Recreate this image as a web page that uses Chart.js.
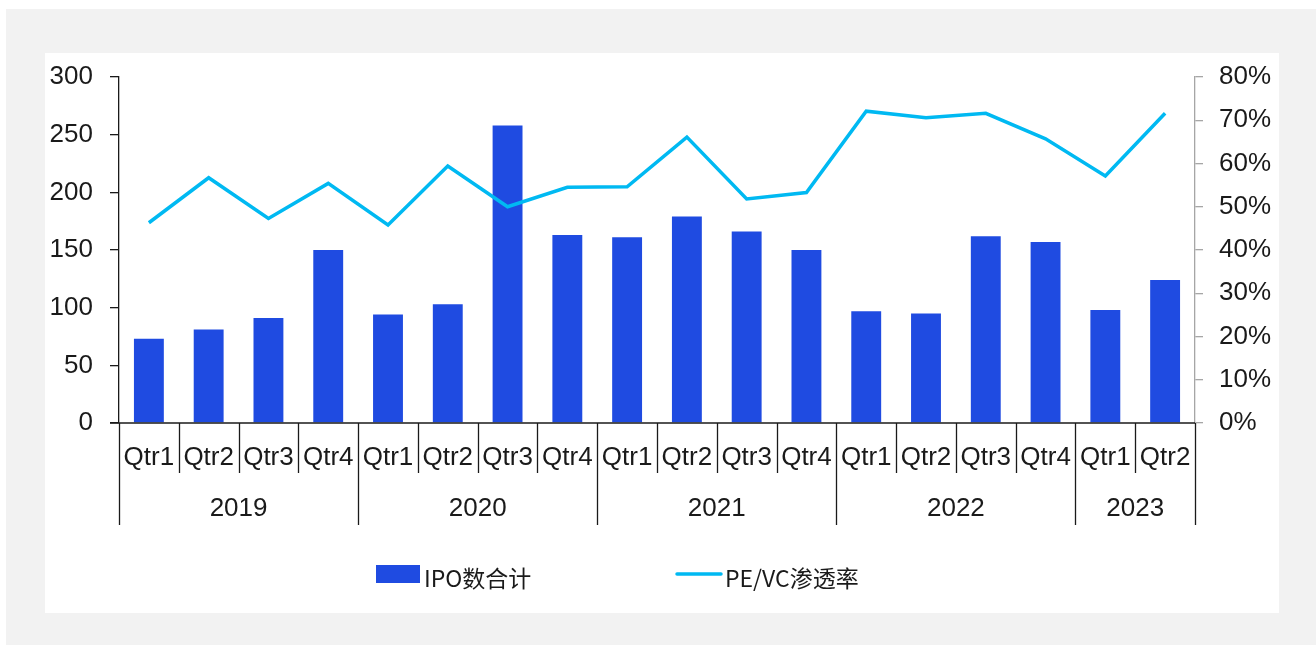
<!DOCTYPE html>
<html>
<head>
<meta charset="utf-8">
<script src="https://cdn.jsdelivr.net/npm/chart.js@4"></script>
<style>
    body { margin: 0; background: #fff; }
    #outer { position: absolute; left: 6px; top: 9px; width: 1310px; height: 636px; background: #f2f2f2; }
    #panel { position: absolute; left: 39px; top: 44px; width: 1234px; height: 560px; background: #fff; }
    canvas { display: block; }
</style>
</head>
<body>
<div id="outer"><div id="panel"><canvas id="myChart" width="1234" height="560"></canvas></div></div>
<script>
"use strict"

const years = ["2019", "2020", "2021", "2022", "2023"];
const quartersPerYear = [4, 4, 4, 4, 2];
const quarters = ["Qtr1", "Qtr2", "Qtr3", "Qtr4", "Qtr1", "Qtr2", "Qtr3", "Qtr4", "Qtr1", "Qtr2", "Qtr3", "Qtr4",
    "Qtr1", "Qtr2", "Qtr3", "Qtr4", "Qtr1", "Qtr2"];
const ipoCount = [73, 81, 91, 150, 94, 103, 258, 163, 161, 179, 166, 150, 97, 95, 162, 157, 98, 124];
const pevcRate = [46.3, 56.7, 47.3, 55.4, 45.8, 59.4, 50.0, 54.5, 54.6, 66.1, 51.8, 53.3, 72.1, 70.6, 71.6, 65.7, 57.1, 71.6];
const leftTicks = [0, 50, 100, 150, 200, 250, 300];
const rightTicks = [0, 10, 20, 30, 40, 50, 60, 70, 80];

const barColor = "#1f4be1";
const lineColor = "#00b9f2";
const textColor = "#1a1a1a";
const fontFamily = "'Liberation Sans', Arial, sans-serif";

// draws the two-level category axis and the legend
const groupAxis = {
    id: "groupAxis",
    afterDraw(chart) {
        const ctx = chart.ctx;
        const x = chart.scales.x;
        const area = chart.chartArea;
        const step = (area.right - area.left) / quarters.length;
        const base = area.bottom;

        ctx.save();
        ctx.strokeStyle = "#1a1a1a";
        ctx.lineWidth = 1.3;
        ctx.beginPath();
        ctx.moveTo(area.left - 9, base);
        ctx.lineTo(area.right, base);
        ctx.stroke();

        const yearEdges = [0];
        quartersPerYear.forEach(n => yearEdges.push(yearEdges[yearEdges.length - 1] + n));

        for (let i = 0; i <= quarters.length; i++) {
            const px = Math.round(area.left + i * step) + 0.5;
            const long = yearEdges.includes(i);
            ctx.beginPath();
            ctx.moveTo(px, base);
            ctx.lineTo(px, base + (long ? 102 : 50));
            ctx.stroke();
        }

        ctx.fillStyle = textColor;
        ctx.font = "26px " + fontFamily;
        ctx.textAlign = "center";
        ctx.textBaseline = "middle";
        quarters.forEach((q, i) => {
            ctx.fillText(q, x.getPixelForValue(i), base + 35);
        });
        years.forEach((yr, i) => {
            const mid = (yearEdges[i] + yearEdges[i + 1]) / 2;
            ctx.fillText(yr, area.left + mid * step, base + 86);
        });

        // legend
        const barSet = chart.data.datasets.find(d => d.type === "bar");
        const lineSet = chart.data.datasets.find(d => d.type === "line");
        const ly = base + 151;
        ctx.fillStyle = barSet.backgroundColor;
        ctx.fillRect(331, ly - 9, 44, 18);
        ctx.strokeStyle = lineSet.borderColor;
        ctx.lineWidth = 3.5;
        ctx.lineCap = "round";
        ctx.beginPath();
        ctx.moveTo(632, ly);
        ctx.lineTo(676, ly);
        ctx.stroke();
        ctx.fillStyle = textColor;
        ctx.textAlign = "left";
        ctx.font = "23px 'Noto Sans CJK SC', sans-serif";
        ctx.fillText(barSet.label, 379, ly + 4);
        ctx.fillText(lineSet.label, 680, ly + 4);
        ctx.restore();
    }
};

// keep tick label overflow from pushing the plot area around
const fixWidth = (w) => (scale) => {
    scale.width = w;
    scale.paddingTop = 0;
    scale.paddingBottom = 0;
};

const ctx = document.getElementById("myChart").getContext("2d");

new Chart(ctx, {
    data: {
        labels: quarters,
        datasets: [{
            type: "line",
            label: "PE/VC渗透率",
            data: pevcRate,
            yAxisID: "y1",
            borderColor: lineColor,
            borderWidth: 3.5,
            pointRadius: 0,
            tension: 0,
            order: 0
        }, {
            type: "bar",
            label: "IPO数合计",
            data: ipoCount,
            yAxisID: "y",
            backgroundColor: barColor,
            barPercentage: 0.5,
            categoryPercentage: 1,
            order: 1
        }]
    },
    options: {
        responsive: false,
        animation: false,
        layout: {
            padding: { top: 24, bottom: 190, left: 0, right: 0 }
        },
        plugins: {
            legend: { display: false },
            tooltip: { enabled: false }
        },
        scales: {
            x: {
                display: false,
                offset: true
            },
            y: {
                position: "left",
                min: 0,
                max: 300,
                afterBuildTicks: (scale) => { scale.ticks = leftTicks.map(v => ({ value: v })); },
                afterFit: fixWidth(74),
                ticks: {
                    color: textColor,
                    padding: 17,
                    font: { family: fontFamily, size: 26 }
                },
                grid: {
                    drawOnChartArea: false,
                    tickLength: 9,
                    color: "#1a1a1a",
                    lineWidth: 1.3
                },
                border: { color: "#1a1a1a", width: 1.3 }
            },
            y1: {
                position: "right",
                min: 0,
                max: 80,
                afterBuildTicks: (scale) => { scale.ticks = rightTicks.map(v => ({ value: v })); },
                afterFit: fixWidth(84),
                ticks: {
                    color: textColor,
                    padding: 16,
                    font: { family: fontFamily, size: 26 },
                    callback: (v) => v + "%"
                },
                grid: {
                    drawOnChartArea: false,
                    tickLength: 8,
                    color: "#a6a6a6",
                    lineWidth: 1.3
                },
                border: { color: "#a6a6a6", width: 1.3 }
            }
        }
    },
    plugins: [groupAxis]
});
</script>
</body>
</html>
